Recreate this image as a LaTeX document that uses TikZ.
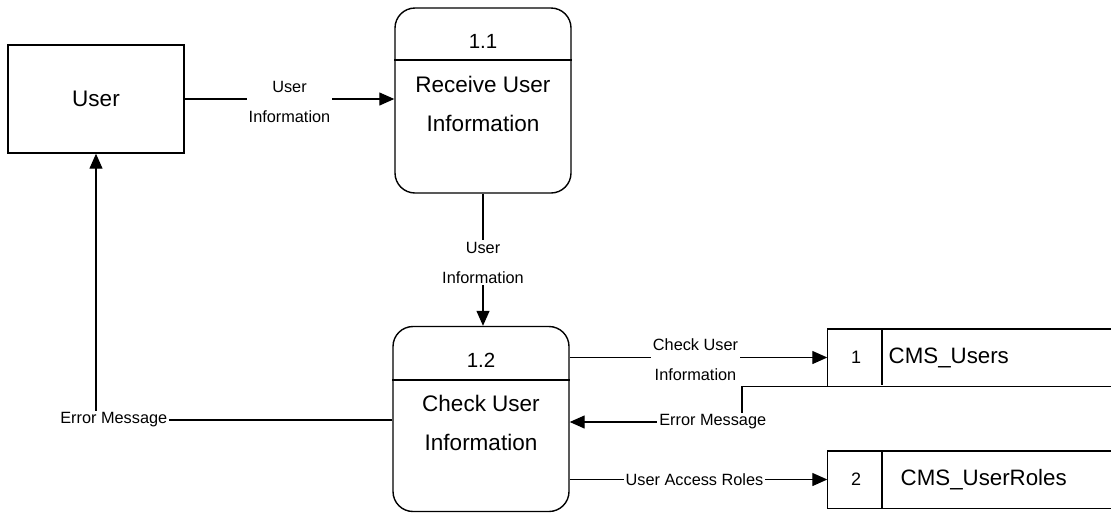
\documentclass[tikz,border=0pt]{standalone}
\usepackage{fontspec}
\setmainfont{Liberation Sans}
\usetikzlibrary{arrows.meta}
\begin{document}
\begin{tikzpicture}[x=1pt,y=-1pt,
  line width=1.4pt,
  arr/.style={-{Triangle[length=15pt,width=13pt]}, line width=1.3pt},
  ent/.style={draw, rectangle, minimum width=176pt, minimum height=108pt, inner sep=0pt, font=\fontsize{22.5}{27}\selectfont},
  proc/.style={draw, rectangle, rounded corners=20pt, minimum width=176pt, minimum height=185pt, inner sep=0pt},
  pnum/.style={font=\fontsize{20.5}{24}\selectfont, inner sep=0pt},
  ptxt/.style={font=\fontsize{22.5}{39}\selectfont, align=center, inner sep=0pt},
  stor/.style={rectangle, minimum width=283pt, minimum height=56pt, inner sep=0pt},
  snum/.style={font=\fontsize{18}{22}\selectfont, inner sep=0pt},
  stxt/.style={font=\fontsize{22.3}{26}\selectfont, inner sep=0pt, anchor=west},
  lbl/.style={font=\fontsize{16.3}{30}\selectfont, align=center, fill=white, inner sep=2pt}
]
\useasboundingbox (0,0) rectangle (1111,512);
% external entity
\node[ent] (user) at (96,99) {User};
% process 1.1
\node[proc] (p11) at (483,100.5) {};
\draw (p11.west |- 0,60) -- (p11.east |- 0,60);
\node[pnum] (p11n) at (483,41) {1.1};
\node[ptxt] (p11t) at (483,103.5) {Receive User\\Information};
% process 1.2
\node[proc] (p12) at (481,419) {};
\draw (p12.west |- 0,380) -- (p12.east |- 0,380);
\node[pnum] (p12n) at (481,360) {1.2};
\node[ptxt] (p12t) at (481,422.5) {Check User\\Information};
% data store 1
\node[stor] (s1) at (969.5,357.5) {};
\draw (s1.north east) -- (s1.north west) -- (s1.south west) -- (s1.south east);
\draw (882,330) -- (882,385);
\node[snum] (s1n) at (856,357.5) {1};
\node[stxt] (s1t) at (888,357.5) {CMS\_Users};
% data store 2
\node[stor] (s2) at (969.5,479.5) {};
\draw (s2.north east) -- (s2.north west) -- (s2.south west) -- (s2.south east);
\draw (882,451.5) -- (882,507.5);
\node[snum] (s2n) at (856,479.5) {2};
\node[stxt] (s2t) at (900,479.5) {CMS\_UserRoles};
% connectors
\draw[arr] (user.east) -- node[lbl, yshift=-3pt] {User\\Information} (p11.west |- user.east);
\draw[arr] (p11.south) -- node[lbl, yshift=-3pt] {User\\Information} (p12.north -| p11.south);
\draw[arr] (p12.east |- s1.west) -- node[lbl, xshift=-3pt, yshift=-2pt] {Check User\\Information} (s1.west);
\coordinate (em) at (742,422);
\draw[arr] (s1.south west) -| (em) -- node[lbl, pos=0.17] {Error Message} (p12.east |- em);
\draw[arr] (p12.west |- 0,420) -| node[lbl, pos=0.47] {Error Message} (user.south);
\draw[arr] (p12.east |- s2.west) -- node[lbl, xshift=-4pt] {User Access Roles} (s2.west);
\end{tikzpicture}
\end{document}
